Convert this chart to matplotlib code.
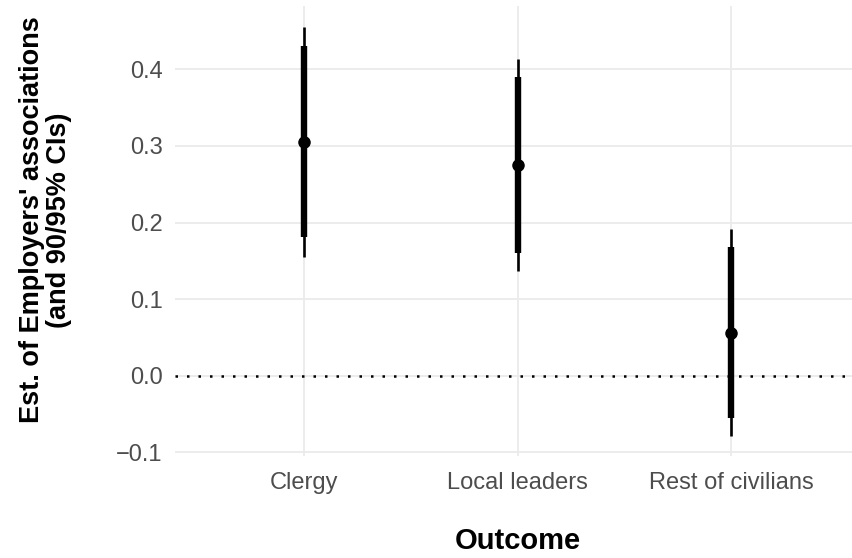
import matplotlib
matplotlib.use("Agg")
import matplotlib.pyplot as plt
import numpy as np

categories = ["Clergy", "Local leaders", "Rest of civilians"]
estimate = [0.3055, 0.2750, 0.0561]
lo90 = [0.1807, 0.1597, -0.0556]
hi90 = [0.4304, 0.3895, 0.1684]
lo95 = [0.1554, 0.1370, -0.0787]
hi95 = [0.4556, 0.4134, 0.1915]
yticks = [-0.1, 0.0, 0.1, 0.2, 0.3, 0.4]
ytick_labels = ["\u22120.1", "0.0", "0.1", "0.2", "0.3", "0.4"]

plt.rcParams['font.family'] = ['Liberation Sans', 'DejaVu Sans']

fig = plt.figure(figsize=(8.52, 5.58), dpi=100)
W, H = 852, 558
left_px, right_px = 175.3, 859.7
top_px, bot_px = 6.3, 456.4
ax = fig.add_axes([left_px / W, 1 - bot_px / H, (right_px - left_px) / W, (bot_px - top_px) / H])

x = np.arange(1, len(categories) + 1)

ax.axhline(0, color='black', lw=1.8, linestyle=(0, (1, 3.6)), zorder=2)
ax.vlines(x, lo95, hi95, color='black', lw=1.9, zorder=3)
ax.vlines(x, lo90, hi90, color='black', lw=4.6, zorder=4)
ax.plot(x, estimate, 'o', color='black', markersize=8, zorder=5)

ax.set_xlim(0.4, len(categories) + 0.6)
lo = min(lo95 + [0.0]); hi = max(hi95 + [0.0])
pad = 0.05 * (hi - lo)
ax.set_ylim(lo - pad, hi + pad)

ax.set_xticks(x)
ax.set_xticklabels(categories)
ax.set_yticks(yticks)
ax.set_yticklabels(ytick_labels)

ax.grid(True, color='#ebebeb', lw=1.3, zorder=0)
ax.set_axisbelow(True)
for s in ax.spines.values():
    s.set_visible(False)
ax.tick_params(axis='both', length=0, labelsize=17, labelcolor='#4d4d4d')
ax.tick_params(axis='x', pad=11)
ax.tick_params(axis='y', pad=9)

ax.set_xlabel("Outcome", fontsize=21, fontweight='bold', labelpad=24)
fig.text(46 / W, 1 - 220 / H, "Est. of Employers' associations\n(and 90/95% CIs)",
         fontsize=19.5, fontweight='bold', rotation=90, ha='center', va='center',
         multialignment='center', linespacing=1.05)

fig.savefig("out.png", dpi=100)
